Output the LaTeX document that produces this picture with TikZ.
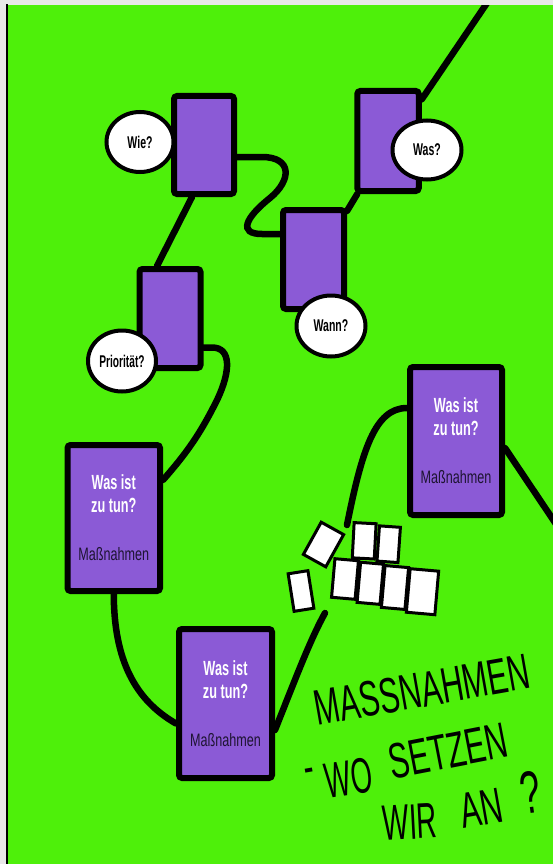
\documentclass[tikz,border=0pt]{standalone}
\usepackage{fontspec}
\setmainfont{Liberation Sans}
\usetikzlibrary{shapes.geometric,calc}
\definecolor{bggreen}{RGB}{78,240,10}
\definecolor{boxpurple}{RGB}{139,90,214}
\definecolor{darktext}{RGB}{30,20,50}
\definecolor{rim}{RGB}{232,232,232}
\pgfdeclarelayer{back}
\pgfdeclarelayer{lines}
\pgfsetlayers{back,lines,main}
\newcommand{\cnd}[2][0.62]{\scalebox{#1}[1]{#2}}
\newcommand{\masstext}{\textbf{\cnd{Was ist}}\\\textbf{\cnd{zu tun?}}\\[25pt]{\fontsize{18}{20}\selectfont\color{darktext}\cnd[0.7]{Maßnahmen}}}
\begin{document}
\begin{tikzpicture}[x=1pt,y=-1pt,
  card/.style={draw=black, fill=boxpurple, line width=6pt, rounded corners=3pt, inner sep=0pt},
  bubble/.style={ellipse, draw=black, fill=white, line width=4pt, inner sep=0pt, font=\fontsize{17}{19}\selectfont\bfseries},
  masscard/.style={card, align=center, font=\fontsize{20.5}{23}\selectfont, text=white},
  conn/.style={draw=black, line width=6.5pt, line cap=round},
  paper/.style={draw=black, fill=white, line width=3pt, inner sep=0pt},
  hand/.style={font=\fontsize{50}{50}\selectfont, text=black, inner sep=0pt}
]
\useasboundingbox (0,0) rectangle (553,864);
\clip (0,0) rectangle (553,864);
\begin{pgfonlayer}{back}
\fill[bggreen] (0,0) rectangle (553,864);
\end{pgfonlayer}

% question boxes
\node[card, minimum width=60pt, minimum height=98pt] (wiebox) at (204,145) {};
\node[card, minimum width=61.5pt, minimum height=100pt] (wasbox) at (388,141) {};
\node[card, minimum width=61pt, minimum height=99pt] (wannbox) at (313.5,259.5) {};
\node[card, minimum width=61pt, minimum height=99pt] (priobox) at (170,318.5) {};

% measure boxes
\node[masscard, minimum width=92.5pt, minimum height=146pt] (massA) at (113.75,518) {\masstext};
\node[masscard, minimum width=92pt, minimum height=148pt] (massB) at (456,441) {\masstext};
\node[masscard, minimum width=93pt, minimum height=149pt] (massC) at (225.5,703.5) {\masstext};

% bubbles
\node[bubble, minimum width=67pt, minimum height=60pt] (wie) at (140,142) {\cnd{Wie?}};
\node[bubble, minimum width=69pt, minimum height=59pt] (was) at (427,150) {\cnd{Was?}};
\node[bubble, minimum width=69pt, minimum height=61pt] (wann) at (331,326) {\cnd{Wann?}};
\node[bubble, minimum width=68pt, minimum height=61pt] (prio) at (122,361) {\cnd[0.6]{Priorität?}};

% white cards
\node[paper, minimum width=25.6pt, minimum height=36.8pt, rotate=-29] (p1) at (323.5,544.5) {};
\node[paper, minimum width=22pt, minimum height=35.3pt, rotate=-3] (p2) at (364.2,540.8) {};
\node[paper, minimum width=21pt, minimum height=35.3pt, rotate=-4] (p3) at (388.7,544.2) {};
\node[paper, minimum width=23.6pt, minimum height=38.7pt, rotate=-5] (p4) at (345,579) {};
\node[paper, minimum width=23pt, minimum height=40.3pt, rotate=-5] (p5) at (370.3,583.3) {};
\node[paper, minimum width=23.6pt, minimum height=42pt, rotate=-5] (p6) at (395,587.5) {};
\node[paper, minimum width=28.6pt, minimum height=43.7pt, rotate=-5] (p7) at (422.5,591.7) {};
\node[paper, minimum width=20pt, minimum height=38pt, rotate=9] (p8) at (301,591) {};

% free ends
\coordinate (top) at (489,0);
\coordinate (e1) at (325,613);
\coordinate (e2) at (347,525);
\coordinate (e3) at (560,530);

\begin{pgfonlayer}{lines}
\draw[conn] (top) -- (wasbox.51);
\draw[conn] ([xshift=3pt]wasbox.south west) -- ([yshift=-4pt]wannbox.north east);
\draw[conn] ([yshift=-12pt]wiebox.east) -- (262,157) .. controls (292,157) and (292,180) .. (270,198)
   .. controls (245,218) and (238,234) .. (262,234) -- ([yshift=25.5pt]wannbox.west);
\draw[conn] ([xshift=-12pt]wiebox.south) -- ([xshift=-13pt]priobox.north);
\draw[conn] ([yshift=-29pt]priobox.east) -- (212,347.5) .. controls (232,347.5) and (230,372) .. (218,398)
   .. controls (200,435) and (185,455) .. ([yshift=38pt]massA.east);
\draw[conn] (massA.south) .. controls (114,660) and (135,700) .. ([yshift=-20pt]massC.west);
\draw[conn] ([yshift=-26.5pt]massC.east) .. controls (295,680) and (310,640) .. (e1);
\draw[conn] ([yshift=33pt]massB.west) .. controls (375,408) and (362,450) .. (e2);
\draw[conn] ([yshift=-7pt]massB.east) -- (e3);
\end{pgfonlayer}

% handwritten title
\node[hand, rotate=10] (h1) at (422,690) {\cnd[0.61]{MASSNAHMEN}};
\node[hand, rotate=10] (h2a) at (310,776) {\cnd[0.6]{-}};
\node[hand, rotate=8] (h2b) at (349,778) {\cnd[0.55]{WO}};
\node[hand, rotate=11] (h2c) at (448,751) {\cnd[0.61]{SETZEN}};
\node[hand, rotate=3] (h3a) at (410,822) {\cnd[0.56]{WIR}};
\node[hand, rotate=10] (h3b) at (481,808) {\cnd[0.61]{AN}};
\node[hand, rotate=8, font=\fontsize{60}{60}\selectfont] (h3c) at (530,792) {\cnd[0.6]{?}};

% paper rim
\fill[rim] (0,0) rectangle (553,5);
\fill[rim] (0,0) rectangle (6,864);
\fill[black] (6,4) rectangle (7.5,864);
\end{tikzpicture}
\end{document}
